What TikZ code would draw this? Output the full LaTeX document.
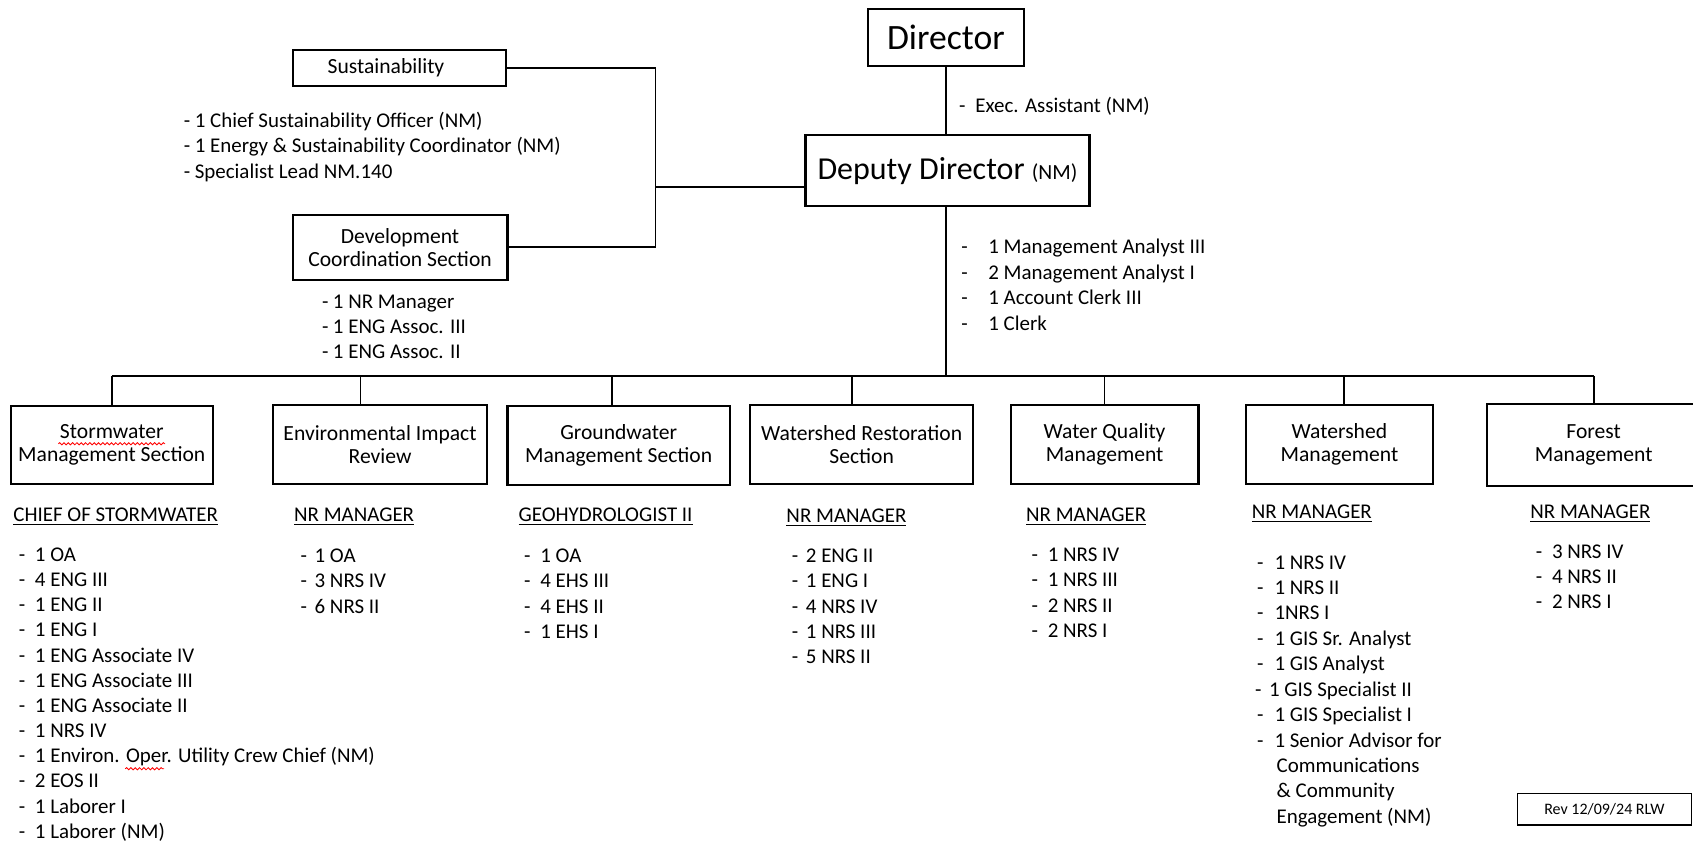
\documentclass[tikz,border=0pt]{standalone}
\usepackage{fontspec}
\setmainfont{Carlito}
\usetikzlibrary{decorations.pathmorphing}
\tikzset{
 box/.style={draw, line width=1pt, inner sep=0pt, align=center, font=\fontsize{10}{10.5}\selectfont},
 itm/.style={inner sep=0pt, font=\fontsize{9.7}{11.7}\selectfont},
 hdr/.style={inner sep=0pt, anchor=base west, font=\fontsize{9.7}{11.7}\selectfont},
 conn/.style={line width=0.8pt},
 squig/.style={red, line width=0.4pt, decorate, decoration={snake, amplitude=0.5pt, segment length=2pt}}
}
\newcommand\itemlist[6]{%
  \foreach \itx [count=\i from 0] in {#6} {%
    \node[itm, anchor=base west] (#1-\i) at (#2, {#4+\i*#5}) {\makebox[#3][l]{-}\itx};}}
\newcommand\oneline[5]{\node[itm, anchor=base west] (#1) at (#2,#3) {\makebox[#4][l]{-}#5};}
\begin{document}
\begin{tikzpicture}[x=0.5pt,y=-0.5pt]
\fill[white] (0,0) rectangle (1568,780);
\useasboundingbox (0,0) rectangle (1568,780);

% top
\node[box, minimum width=72pt, minimum height=26.5pt, font=\fontsize{16.5}{18}\selectfont] (dir) at (876,34.5) {Director};
\node[box, minimum width=131.5pt, minimum height=33pt] (dep) at (877.5,158) {\fontsize{14.8}{16}\selectfont Deputy Director \fontsize{10}{12}\selectfont(NM)};
\node[box, minimum width=99pt, minimum height=17pt] (sus) at (370,63) {Sustainability\hspace*{12.5pt}};
\node[box, minimum width=99.5pt, minimum height=30pt] (dev) at (370.5,229) {Development\\Coordination Section};

\coordinate (lj) at (607,173);
\coordinate (bus) at (876,348);

\draw[conn] (dir.south) -- (dir.south |- dep.north);
\draw[conn] ([yshift=-7.5pt]dep.west) -- (lj);
\draw[conn] (sus.east) -- (sus.east -| lj) -- (dev.east -| lj) -- (dev.east);

\node[itm, anchor=base west] (exec) at (888,104) {\makebox[7.5pt][l]{-}Exec. Assistant (NM)};
\itemlist{deplist}{890}{12.5pt}{235}{23.6}{1 Management Analyst III, 2 Management Analyst I, 1 Account Clerk III, 1 Clerk}
\itemlist{suslist}{170}{5pt}{118}{23.5}{1 Chief Sustainability Officer (NM), 1 Energy \& Sustainability Coordinator (NM), Specialist Lead NM.140}
\itemlist{devlist}{298}{5pt}{286}{23.2}{1 NR Manager, 1 ENG Assoc. III, 1 ENG Assoc. II}

% sections
\node[box, minimum width=93.5pt, minimum height=36pt] (storm) at (103.5,412) {Stormwater\\Management Section};
\node[box, minimum width=99pt, minimum height=36.5pt] (eir) at (352,411.5) {Environmental Impact\\Review};
\node[box, minimum width=103pt, minimum height=36.5pt] (gw) at (573,412.5) {Groundwater\\Management Section};
\node[box, minimum width=103pt, minimum height=36.5pt] (wr) at (798,411.5) {Watershed Restoration\\Section};
\node[box, minimum width=87pt, minimum height=36.5pt] (wq) at (1023,411.5) {Water Quality\\Management};
\node[box, minimum width=86.5pt, minimum height=36.5pt] (wm) at (1240.5,411.5) {Watershed\\Management};
\node[box, minimum width=99pt, minimum height=38pt] (forest) at (1476,412) {Forest\\Management};

\draw[conn] (dir.south |- dep.south) -- (bus);
\draw[conn] (storm.north |- bus) -- (forest.north |- bus);
\draw[conn] (storm.north) -- (storm.north |- bus);
\draw[conn] ([xshift=-9pt]eir.north) -- ([xshift=-9pt]eir.north |- bus);
\draw[conn] ([xshift=-3pt]gw.north) -- ([xshift=-3pt]gw.north |- bus);
\draw[conn] ([xshift=-4.5pt]wr.north) -- ([xshift=-4.5pt]wr.north |- bus);
\draw[conn] (wq.north) -- (wq.north |- bus);
\draw[conn] ([xshift=2.25pt]wm.north) -- ([xshift=2.25pt]wm.north |- bus);
\draw[conn] (forest.north) -- (forest.north |- bus);

% headers
\node[hdr] (h1) at (12,483) {\underline{CHIEF OF STORMWATER}};
\node[hdr] (h2) at (272,483) {\underline{NR MANAGER}};
\node[hdr] (h3) at (480,483) {\underline{GEOHYDROLOGIST II}};
\node[hdr] (h4) at (728,484) {\underline{NR MANAGER}};
\node[hdr] (h5) at (950,483) {\underline{NR MANAGER}};
\node[hdr] (h6) at (1159,480) {\underline{NR MANAGER}};
\node[hdr] (h7) at (1417,480) {\underline{NR MANAGER}};

% lists
\itemlist{l1}{17}{7.5pt}{520}{23.3}{1 OA, 4 ENG III, 1 ENG II, 1 ENG I, 1 ENG Associate IV, 1 ENG Associate III, 1 ENG Associate II, 1 NRS IV, 1 Environ. Oper. Utility Crew Chief (NM), 2 EOS II, 1 Laborer I, 1 Laborer (NM)}
\itemlist{l2}{278}{6.5pt}{521}{23.45}{1 OA, 3 NRS IV, 6 NRS II}
\itemlist{l3}{485}{7.5pt}{521}{23.45}{1 OA, 4 EHS III, 4 EHS II, 1 EHS I}
\itemlist{l4}{733}{6.5pt}{521}{23.45}{2 ENG II, 1 ENG I, 4 NRS IV, 1 NRS III, 5 NRS II}
\itemlist{l5}{955}{7.5pt}{520}{23.6}{1 NRS IV, 1 NRS III, 2 NRS II, 2 NRS I}
\itemlist{l7}{1422}{7.5pt}{517}{23.5}{3 NRS IV, 4 NRS II, 2 NRS I}

\oneline{l6-0}{1164}{527}{8pt}{1 NRS IV}
\oneline{l6-1}{1164}{550.5}{8pt}{1 NRS II}
\oneline{l6-2}{1164}{574}{8pt}{1NRS I}
\oneline{l6-3}{1164}{597.5}{8pt}{1 GIS Sr. Analyst}
\oneline{l6-4}{1164}{621}{8pt}{1 GIS Analyst}
\oneline{l6-5}{1162}{645}{6.5pt}{1 GIS Specialist II}
\oneline{l6-6}{1164}{668.5}{8pt}{1 GIS Specialist I}
\oneline{l6-7}{1164}{692}{8pt}{1 Senior Advisor for}
\node[itm, anchor=base west] (l6-8) at (1182,715.5) {Communications};
\node[itm, anchor=base west] (l6-9) at (1182,739) {\& Community};
\node[itm, anchor=base west] (l6-10) at (1182,762.5) {Engagement (NM)};

% revision box
\node[draw, line width=0.6pt, minimum width=80.5pt, minimum height=14.5pt, inner sep=0pt, font=\fontsize{7.4}{9}\selectfont] (rev) at (1486,749.5) {Rev 12/09/24 RLW};

% spelling marks
\draw[squig] (54,411) -- (153,411);
\draw[squig] (116,712) -- (152,712);
\end{tikzpicture}
\end{document}
